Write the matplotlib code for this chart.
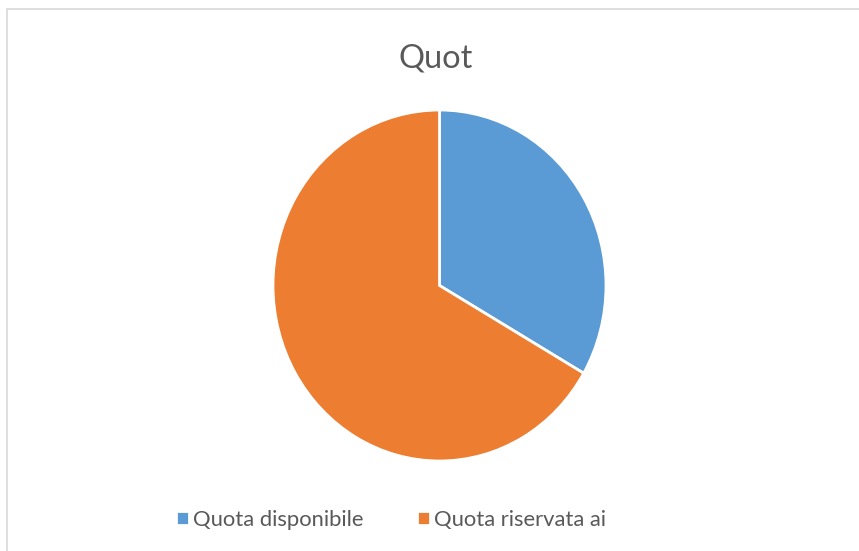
import matplotlib
matplotlib.use('Agg')
import matplotlib.pyplot as plt
from matplotlib.patches import Rectangle

labels = ['Quota disponibile', 'Quota riservata ai']
values = [1 / 3, 2 / 3]
colors = ['#5B9BD5', '#ED7D31']
title = 'Quot'

W, H = 859, 551
fig = plt.figure(figsize=(W / 100, H / 100), dpi=100)
fig.patch.set_facecolor('white')

# chart area border (runs off the right and bottom edges)
fig.patches.append(Rectangle((7 / W, -0.05), 1.0, (H - 9) / H + 0.05,
                             transform=fig.transFigure, fill=False,
                             edgecolor='#d9d9d9', linewidth=1.2))

# pie is a bit taller than wide in the reference
ax = fig.add_axes([273 / W, 90 / H, 333 / W, 351 / H])
wedges, _ = ax.pie(values, colors=colors, startangle=90, counterclock=False,
                   radius=1, wedgeprops=dict(edgecolor='white', linewidth=2))
ax.set_aspect('auto')
ax.set_xlim(-1, 1)
ax.set_ylim(-1, 1)
ax.axis('off')

fig.text(436 / W, (H - 67) / H, title, ha='center', va='baseline',
         fontsize=23.5, color='#595959', family='Lato')

fig.legend(wedges, labels, loc='center', bbox_to_anchor=(391 / W, (H - 520) / H),
           ncol=2, frameon=False, handlelength=0.6, handleheight=0.6,
           handletextpad=0.2, columnspacing=2.4, labelcolor='#595959',
           borderpad=0, prop={'family': 'Lato', 'size': 15.8})

fig.savefig('out.png', dpi=100)
